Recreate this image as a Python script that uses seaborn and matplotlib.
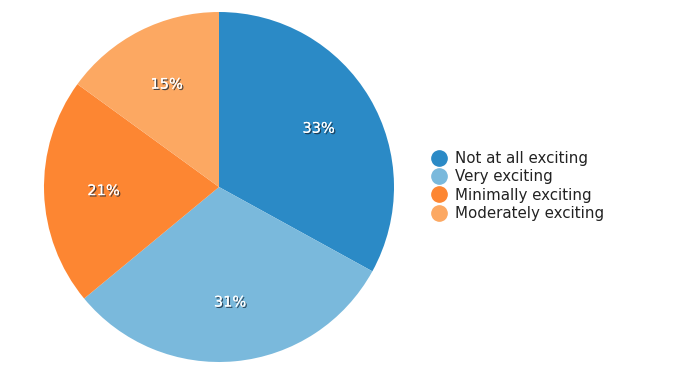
import matplotlib
matplotlib.use("Agg")
import matplotlib.pyplot as plt
import matplotlib.patheffects as pe
from matplotlib.lines import Line2D
import seaborn as sns

categories = ["Not at all exciting", "Very exciting", "Minimally exciting", "Moderately exciting"]
values = [33, 31, 21, 15]
colors = ["#2b8ac6", "#7ab9dc", "#fd8632", "#fca862"]

sns.set_theme(style="white")
plt.rcParams["font.family"] = ["DejaVu Sans"]
palette = sns.color_palette(colors)

W, H = 675, 375
fig = plt.figure(figsize=(W / 100, H / 100), dpi=100)
cx, cy, r = 219, 187, 175
ax = fig.add_axes([(cx - r) / W, (H - cy - r) / H, 2 * r / W, 2 * r / H])

wedges, texts = ax.pie(
    values, colors=palette, startangle=90, counterclock=False,
    labels=[f"{v}%" for v in values], labeldistance=0.66,
    wedgeprops=dict(edgecolor="none", linewidth=0),
    textprops=dict(color="white", fontsize=10.5, ha="center", va="center"),
)
for t in texts:
    t.set_path_effects([pe.withSimplePatchShadow(offset=(1, -1), shadow_rgbFace="#1a2a3a", alpha=0.8), pe.Normal()])
ax.set_xlim(-1, 1)
ax.set_ylim(-1, 1)
ax.axis("off")

handles = [Line2D([], [], marker="o", linestyle="", markersize=11, markerfacecolor=c, markeredgecolor=c) for c in palette]
fig.legend(handles, categories, loc="center left", bbox_to_anchor=(423 / W, 1 - 186 / H),
           frameon=False, fontsize=10.8, handletextpad=0.55, labelspacing=0.22, borderpad=0, handlelength=1.1,
           labelcolor="#222222")

fig.savefig("out.png", dpi=100)
